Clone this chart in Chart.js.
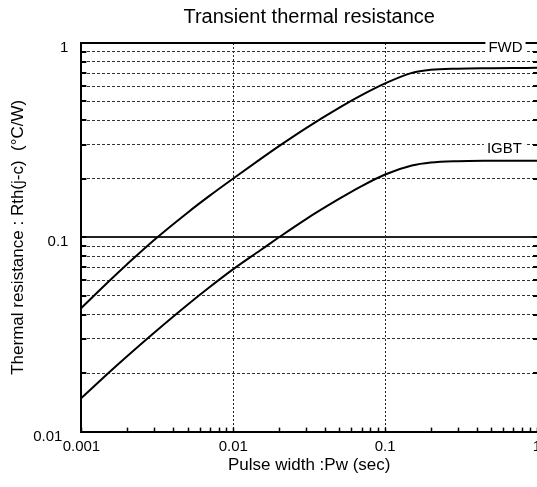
<!DOCTYPE html>
<html>
<head>
<meta charset="utf-8">
<script src="https://cdn.jsdelivr.net/npm/chart.js@4.4.0/dist/chart.umd.min.js"></script>
<style>
  html, body { margin: 0; padding: 0; background: #fff; overflow: hidden; }
</style>
</head>
<body>
<canvas id="myChart" width="537" height="487"></canvas>
<script>

// pulse width (sec) and transient thermal resistance (°C/W)
const pulseWidth = [0.001, 0.0015, 0.002, 0.003, 0.005, 0.007, 0.01, 0.015, 0.02, 0.03, 0.05, 0.07, 0.1, 0.15, 0.2, 0.3, 0.5, 0.7, 1]
const rthFWD  = [0.0433, 0.0589, 0.0727, 0.0966, 0.1339, 0.1638, 0.2008, 0.2519, 0.2947, 0.3638, 0.4649, 0.539, 0.6195, 0.702, 0.728, 0.738, 0.742, 0.744, 0.745]
const rthIGBT = [0.0149, 0.01995, 0.0244, 0.03215, 0.04494, 0.05545, 0.06856, 0.0855, 0.1, 0.1238, 0.158, 0.1835, 0.2105, 0.234, 0.2425, 0.2465, 0.2478, 0.248, 0.248]
const seriesNames = ['FWD', 'IGBT']

const xTickValues = [0.001, 0.01, 0.1, 1]
const xTickLabels = ['0.001', '0.01', '0.1', '1']
const yTickValues = [0.01, 0.1, 1]
const yTickLabels = ['0.01', '0.1', '1']

const FONT = '"Liberation Sans", Arial, sans-serif'
Chart.defaults.font.family = FONT
Chart.defaults.color = '#000'

const isDecade = v => Math.abs(Math.log10(v) - Math.round(Math.log10(v))) < 1e-6

// 1..9 x 10^n ticks between lo and hi
function logTicks(lo, hi) {
  const out = []
  for (let d = lo; d < hi * 1.0001; d *= 10) {
    for (let m = 1; m < 10; m++) {
      const v = +(m * d).toPrecision(3)
      if (v <= hi * 1.0001) out.push({value: v})
    }
  }
  return out
}

const toPoints = ys => pulseWidth.map((x, i) => ({x: x, y: ys[i]}))

// frame, inward tick marks, tick labels and curve names
const frame = {
  id: 'frame',
  afterDraw(chart) {
    const {ctx, chartArea: a, scales: {x, y}} = chart
    ctx.save()
    ctx.strokeStyle = '#000'
    ctx.lineWidth = 2
    ctx.beginPath()
    ctx.moveTo(a.left - 1, a.top)
    ctx.lineTo(a.right, a.top)
    ctx.stroke()

    y.ticks.forEach(t => {
      const py = Math.round(y.getPixelForValue(t.value))
      ctx.beginPath()
      ctx.moveTo(a.left, py); ctx.lineTo(a.left + 5, py)
      ctx.moveTo(a.right - 4, py); ctx.lineTo(a.right, py)
      ctx.stroke()
    })
    ctx.lineWidth = 1.5
    x.ticks.forEach(t => {
      const px = Math.round(x.getPixelForValue(t.value)) + 0.5
      ctx.beginPath()
      ctx.moveTo(px, a.bottom); ctx.lineTo(px, a.bottom - 4)
      ctx.stroke()
    })

    ctx.fillStyle = '#000'
    ctx.font = '15px ' + FONT
    ctx.textBaseline = 'middle'
    ctx.textAlign = 'right'
    yTickValues.forEach((v, i) => {
      const py = y.getPixelForValue(v)
      const shift = i === 0 ? 19 : 13
      ctx.fillText(yTickLabels[i], a.left - shift, py + 5)
    })
    ctx.textAlign = 'center'
    xTickValues.forEach((v, i) => {
      ctx.fillText(xTickLabels[i], x.getPixelForValue(v), a.bottom + 15)
    })

    // curve names with white backing
    const names = [[seriesNames[0], 0.62, 0.95], [seriesNames[1], 0.61, 0.29]]
    ctx.font = '15px ' + FONT
    names.forEach(([txt, vx, vy]) => {
      const px = x.getPixelForValue(vx), py = y.getPixelForValue(vy)
      const w = ctx.measureText(txt).width
      ctx.fillStyle = '#fff'
      ctx.fillRect(px - w / 2 - 3, py - 8, w + 6, 16)
      ctx.fillStyle = '#000'
      ctx.fillText(txt, px, py + 1)
    })
    ctx.restore()
  }
}

const ctx = document.getElementById('myChart')

const chart = new Chart(ctx, {
  type: 'scatter',
  data: {
    datasets: [{
      label: seriesNames[0],
      data: toPoints(rthFWD),
      showLine: true,
      borderColor: '#000',
      borderWidth: 2,
      pointRadius: 0,
      cubicInterpolationMode: 'monotone'
    }, {
      label: seriesNames[1],
      data: toPoints(rthIGBT),
      showLine: true,
      borderColor: '#000',
      borderWidth: 2,
      pointRadius: 0,
      cubicInterpolationMode: 'monotone'
    }]
  },
  options: {
    responsive: false,
    animation: false,
    layout: {padding: 0},
    plugins: {
      legend: {display: false},
      tooltip: {enabled: false},
      title: {
        display: true,
        text: 'Transient thermal resistance',
        fullSize: false,
        font: {size: 20, weight: 'normal'},
        color: '#000',
        padding: {top: 5, bottom: 14}
      }
    },
    scales: {
      x: {
        type: 'logarithmic',
        min: 0.001,
        max: 1,
        afterBuildTicks: s => { s.ticks = logTicks(0.001, 1) },
        ticks: {display: false},
        grid: {
          drawTicks: false,
          lineWidth: 1,
          color: c => (isDecade(c.tick.value) && c.tick.value > 0.001 && c.tick.value < 1) ? '#222' : 'rgba(0,0,0,0)'
        },
        border: {display: true, width: 2, color: '#000', dash: [2, 2]},
        title: {
          display: true,
          text: 'Pulse width :Pw (sec)',
          font: {size: 17},
          padding: {top: 24, bottom: 11}
        }
      },
      y: {
        type: 'logarithmic',
        min: 0.01,
        max: 1,
        afterBuildTicks: s => { s.ticks = logTicks(0.01, 1) },
        ticks: {display: false},
        grid: {
          drawTicks: false,
          lineWidth: c => c.tick.value === 0.1 ? 2 : 1,
          color: c => (c.tick.value === 0.01 || c.tick.value === 1) ? 'rgba(0,0,0,0)' : (c.tick.value === 0.1 ? '#222' : '#333')
        },
        border: {
          display: true, width: 2, color: '#000',
          dash: c => (c.tick && c.tick.value === 0.1) ? [] : [3, 2]
        },
        title: {
          display: true,
          text: 'Thermal resistance : Rth(j-c)  (°C/W)',
          font: {size: 17},
          padding: {top: 8, bottom: 53}
        }
      }
    }
  },
  plugins: [frame]
})

</script>
</body>
</html>
